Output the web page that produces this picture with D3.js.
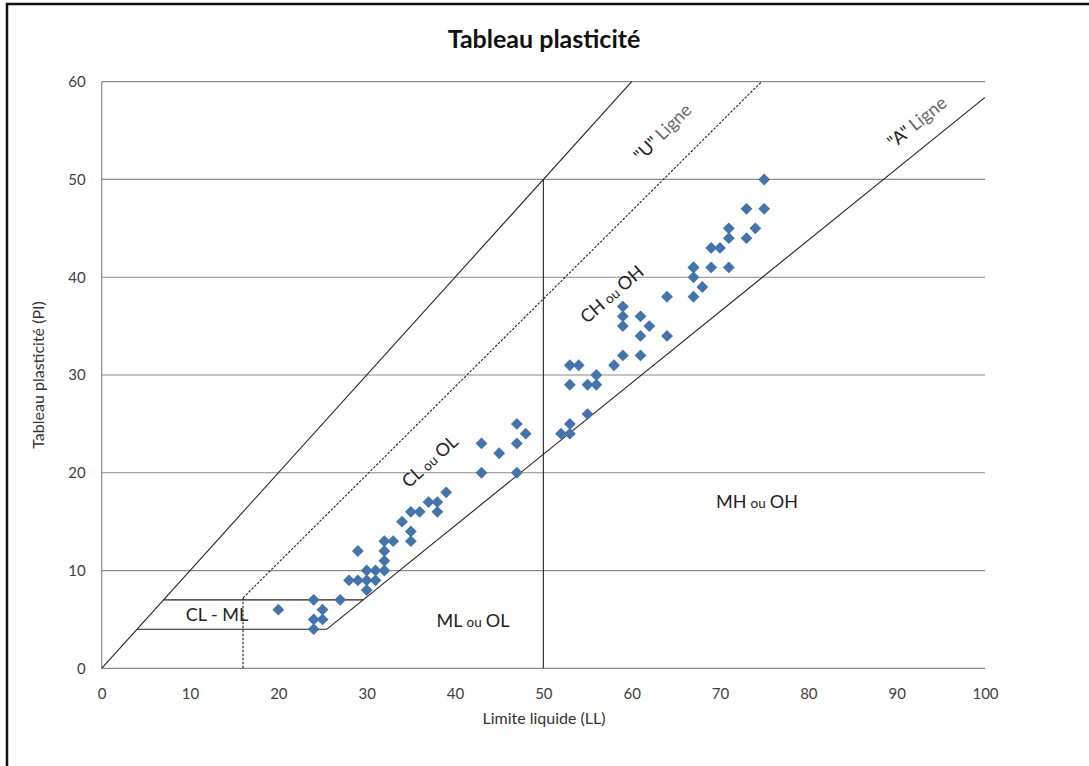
<!DOCTYPE html>
<html>
<head>
<meta charset="utf-8">
<script src="https://cdn.jsdelivr.net/npm/d3@7"></script>
<style>
  body { margin: 0; background: #fff; }
  svg { display: block; font-family: Lato, "Open Sans", sans-serif; }
</style>
</head>
<body>
<svg width="1089" height="766"></svg>
<script>
// Points (limite liquide / indice de plasticite)
const ll = [20, 24, 25, 24, 25, 24, 27, 28, 29, 29, 30, 30, 30, 31, 31, 32, 32, 32, 32, 33,
  34, 35, 35, 35, 36, 37, 38, 38, 39, 43, 43, 45, 47, 47, 48, 47,
  52, 53, 53, 55, 53, 54, 53, 55, 56, 56, 58, 59, 61, 59, 59, 59, 61, 62, 61, 64, 64,
  67, 67, 67, 68, 67, 69, 69, 70, 71, 71, 71, 73, 73, 74, 75, 75];
const pi = [6, 7, 6, 5, 5, 4, 7, 9, 9, 12, 10, 8, 9, 9, 10, 10, 11, 12, 13, 13,
  15, 16, 14, 13, 16, 17, 17, 16, 18, 23, 20, 22, 25, 23, 24, 20,
  24, 25, 24, 26, 31, 31, 29, 29, 30, 29, 31, 32, 32, 37, 36, 35, 36, 35, 34, 34, 38,
  38, 40, 41, 39, 41, 41, 43, 43, 44, 45, 41, 44, 47, 45, 47, 50];

const xTicks = [0, 10, 20, 30, 40, 50, 60, 70, 80, 90, 100];
const yTicks = [0, 10, 20, 30, 40, 50, 60];

// Boundary lines of the chart
const lineDiag = [[0, 0], [60, 60]];
const lineA = [[25.5, 4], [100, 58.4]];
const lineU = [[16, 7.2], [74.7, 60]];
const lineUvert = [[16, 0], [16, 7.2]];
const line50 = [[50, 0], [50, 50]];
const lineLow = [[4, 4], [25.5, 4]];
const lineHigh = [[7, 7], [29.6, 7]];

const svg = d3.select("svg");

const x = d3.scaleLinear().domain([0, 100]).range([101.7, 985]);
const y = d3.scaleLinear().domain([0, 60]).range([668.3, 81.7]);

// frame (only left and top visible)
svg.append("path")
  .attr("d", "M7,766 V4 H1089")
  .attr("fill", "none").attr("stroke", "#111").attr("stroke-width", 2.5);

// gridlines
svg.append("g").selectAll("line")
  .data(yTicks)
  .join("line")
    .attr("x1", x(0)).attr("x2", x(100))
    .attr("y1", d => y(d)).attr("y2", d => y(d))
    .attr("stroke", "#8a8a8a").attr("stroke-width", 1.2);

svg.append("line")
  .attr("x1", x(0)).attr("x2", x(0))
  .attr("y1", y(0)).attr("y2", y(60))
  .attr("stroke", "#8a8a8a").attr("stroke-width", 1.2);

// axes labels
const xAxis = svg.append("g")
  .attr("transform", `translate(0,${y(0)})`)
  .call(d3.axisBottom(x).tickValues(xTicks).tickSize(0).tickPadding(20));
xAxis.select(".domain").remove();

const yAxis = svg.append("g")
  .attr("transform", `translate(${x(0)},0)`)
  .call(d3.axisLeft(y).tickValues(yTicks).tickSize(0).tickPadding(16));
yAxis.select(".domain").remove();

svg.selectAll(".tick text")
  .attr("font-family", "Lato, sans-serif")
  .attr("font-size", 15)
  .attr("fill", "#404040");

// boundary lines
const line = d3.line().x(d => x(d[0])).y(d => y(d[1]));
const solid = [lineDiag, lineA, line50, lineLow, lineHigh];
svg.append("g").selectAll("path")
  .data(solid)
  .join("path")
    .attr("d", line)
    .attr("fill", "none").attr("stroke", "#222").attr("stroke-width", 1.1);

svg.append("g").selectAll("path")
  .data([lineU, lineUvert])
  .join("path")
    .attr("d", line)
    .attr("fill", "none").attr("stroke", "#222").attr("stroke-width", 1.1)
    .attr("stroke-dasharray", "2.5,1.5");

// points
svg.append("g").selectAll("path")
  .data(ll.map((d, i) => [d, pi[i]]))
  .join("path")
    .attr("d", d3.symbol(d3.symbolSquare, 70))
    .attr("transform", d => `translate(${x(d[0])},${y(d[1])}) rotate(45)`)
    .attr("fill", "#4274ae");

// region labels
function label(txt1, txt2, txt3, px, py, angle, size, fill2) {
  const t = svg.append("text")
    .attr("transform", `translate(${px},${py}) rotate(${angle})`)
    .attr("text-anchor", "middle")
    .attr("font-size", size)
    .attr("fill", "#222");
  t.append("tspan").text(txt1);
  if (txt2) t.append("tspan").attr("font-size", size * 0.75).attr("dx", 4).text(txt2);
  if (txt3) t.append("tspan").attr("dx", 4).attr("fill", fill2 || "#222").text(txt3);
}
label("CL - ML", null, null, 217, 621, 0, 18);
label("ML", "ou", "OL", 473, 627, 0, 18);
label("MH", "ou", "OH", 757, 508, 0, 18);
label("CL", "ou", "OL", 434, 466, -42, 18);
label("CH", "ou", "OH", 616, 299, -41, 18);
label("\"U\"", null, "Ligne", 667, 137, -45, 18, "#666");
label("\"A\"", null, "Ligne", 921, 127, -39, 18, "#666");

// titles
svg.append("text")
  .attr("x", 544).attr("y", 48)
  .attr("text-anchor", "middle")
  .attr("font-size", 25).attr("font-weight", "bold")
  .attr("fill", "#111")
  .text("Tableau plasticité");

svg.append("text")
  .attr("x", 544).attr("y", 724)
  .attr("text-anchor", "middle")
  .attr("font-size", 16).attr("fill", "#333")
  .text("Limite liquide (LL)");

svg.append("text")
  .attr("transform", "translate(44,375) rotate(-90)")
  .attr("text-anchor", "middle")
  .attr("font-size", 16).attr("fill", "#333")
  .text("Tableau plasticité (PI)");
</script>
</body>
</html>
